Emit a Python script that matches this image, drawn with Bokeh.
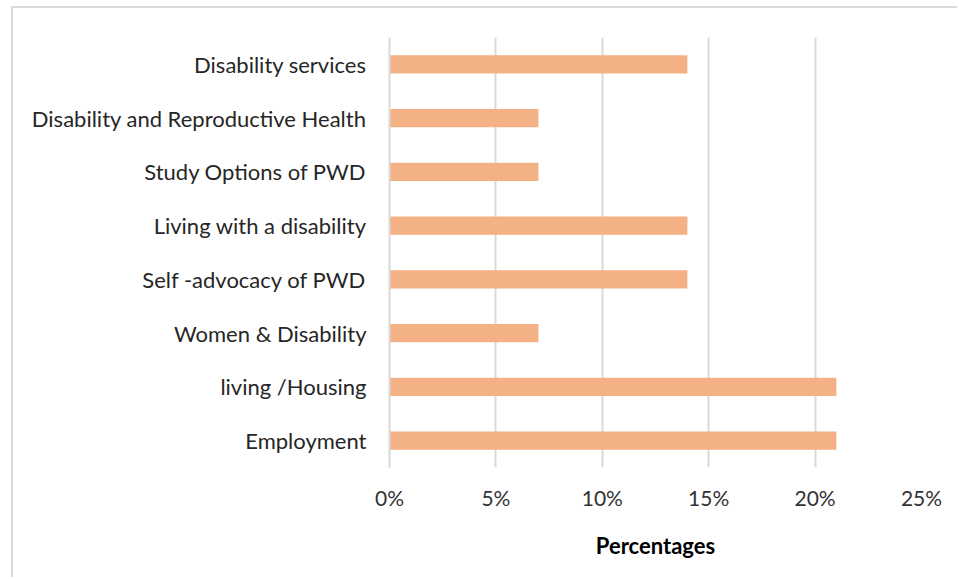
from bokeh.plotting import figure
from bokeh.models import FactorRange, Range1d, FixedTicker, PrintfTickFormatter
from bokeh.embed import file_html
from bokeh.resources import INLINE

categories = ["Employment", "living /Housing", "Women & Disability", "Self -advocacy of PWD",
              "Living with a disability", "Study Options of PWD",
              "Disability and Reproductive Health", "Disability services"]
percentages = [21, 21, 7, 14, 14, 7, 7, 14]
x_ticks = [0, 5, 10, 15, 20, 25]

W, H = 946, 571
p = figure(width=W, height=H, y_range=FactorRange(factors=categories, range_padding=0),
           x_range=Range1d(0, 25), output_backend="svg", toolbar_location=None,
           min_border_left=376, min_border_right=38, min_border_top=29, min_border_bottom=112)
p.styles = {"margin-left": "11px", "margin-top": "6px",
            "border-left": "2px solid #d9d9d9", "border-top": "2px solid #d9d9d9"}

p.hbar(y=categories, right=percentages, height=0.34, color="#F4B183", line_color=None)

p.outline_line_color = None
p.ygrid.grid_line_color = None
p.xgrid.grid_line_color = "#d9d9d9"
p.xgrid.grid_line_width = 2
p.xgrid.ticker = FixedTicker(ticks=x_ticks)

p.xaxis.ticker = FixedTicker(ticks=x_ticks)
p.xaxis.formatter = PrintfTickFormatter(format="%d%%")
p.xaxis.axis_line_color = None
p.xaxis.major_tick_line_color = None
p.xaxis.minor_tick_line_color = None
p.xaxis.major_label_standoff = 11
p.xaxis.major_label_text_font = "Lato"
p.xaxis.major_label_text_font_size = "21px"
p.xaxis.major_label_text_color = "#333333"
p.xaxis.axis_label = "Percentages"
p.xaxis.axis_label_text_font = "Lato"
p.xaxis.axis_label_text_font_style = "bold"
p.xaxis.axis_label_text_font_size = "22px"
p.xaxis.axis_label_text_color = "#000000"
p.xaxis.axis_label_standoff = 19

p.yaxis.axis_line_color = "#d9d9d9"
p.yaxis.axis_line_width = 2
p.yaxis.major_tick_line_color = None
p.yaxis.minor_tick_line_color = None
p.yaxis.major_label_standoff = 17
p.yaxis.major_label_text_font = "Lato"
p.yaxis.major_label_text_font_size = "22px"
p.yaxis.major_label_text_color = "#262626"

open("out.html", "w").write(file_html(p, INLINE))
